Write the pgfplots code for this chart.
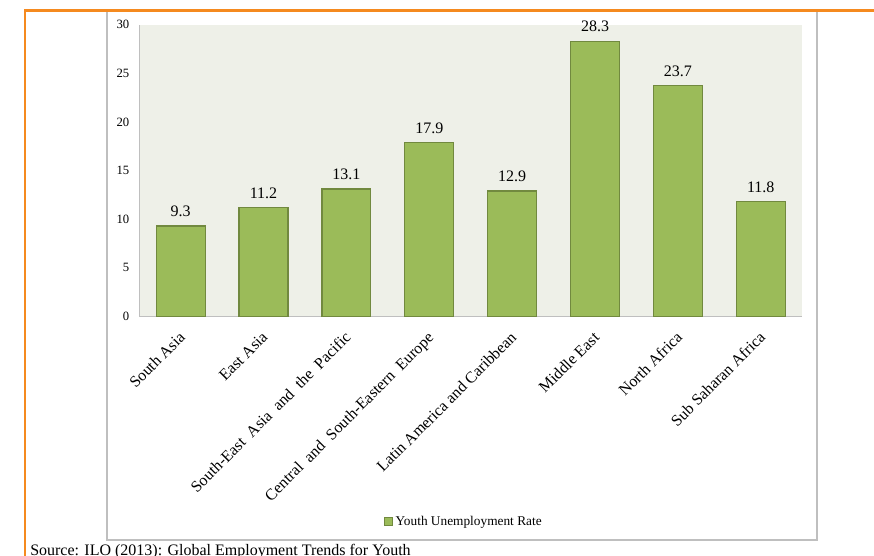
\documentclass[border=0pt]{standalone}
\usepackage{fontspec}
\setmainfont{Liberation Serif}
\usepackage{pgfplots}
\pgfplotsset{compat=1.18}
\definecolor{barfill}{HTML}{9BBB59}
\definecolor{barline}{HTML}{71893F}
\definecolor{plotbg}{HTML}{EEF0E8}
\definecolor{framegray}{HTML}{BFBFBF}
\definecolor{orangeline}{HTML}{F58A1F}
\begin{document}
\begin{tikzpicture}[x=0.75pt,y=0.75pt]
\useasboundingbox (0,0) rectangle (874,556);
% outer frames (pixel grid of the reference, y from the bottom)
\draw[framegray, line width=1.2pt] (107,16) rectangle (817,545);
\draw[orangeline, line width=1.6pt] (25,0) -- (25,545.5) -- (874,545.5);
\node[anchor=north west, inner sep=0pt, font=\fontsize{12}{14}\selectfont] at (30,12) {Source: ILO (2013): Global Employment Trends for Youth};

\begin{axis}[
  at={(168,246)}, anchor=south west,
  scale only axis, width=497.25pt, height=219pt,
  xmin=-0.5, xmax=7.5, ymin=0, ymax=30,
  axis background/.style={fill=plotbg},
  axis lines*=left,
  axis line style={framegray, line width=1pt},
  ytick={0,5,...,30},
  xtick={0,...,7},
  xticklabels={South Asia, East Asia, South-East\ \ Asia\ \ and\ \ the\ \ Pacific,
    Central\ \ and\ \ South-Eastern\ \ Europe, Latin America and Caribbean,
    Middle East, North Africa, Sub Saharan Africa},
  major tick length=0pt,
  /pgf/number format/assume math mode=true,
  yticklabel style={font=\fontsize{9.5}{11}\selectfont, xshift=-4pt},
  xticklabel style={xshift=-2pt, yshift=-9pt, rotate=45, anchor=north east,
    inner sep=1pt, font=\fontsize{12}{14}\selectfont},
  ybar, bar width=0.59,
  nodes near coords,
  nodes near coords style={font=\fontsize{12}{14}\selectfont, anchor=south,
    yshift=3pt, /pgf/number format/.cd, fixed, fixed zerofill, precision=1},
  legend style={at={(0.49,-0.702)}, anchor=center, draw=none, fill=none,
    font=\fontsize{10}{12}\selectfont},
  legend image code/.code={\draw[#1] (0pt,-3pt) rectangle (6pt,3pt);},
]
\addplot[fill=barfill, draw=barline, line width=0.9pt]
  coordinates {(0,9.3) (1,11.2) (2,13.1) (3,17.9) (4,12.9) (5,28.3) (6,23.7) (7,11.8)};
\addlegendentry{Youth Unemployment Rate}
\end{axis}
\end{tikzpicture}
\end{document}
